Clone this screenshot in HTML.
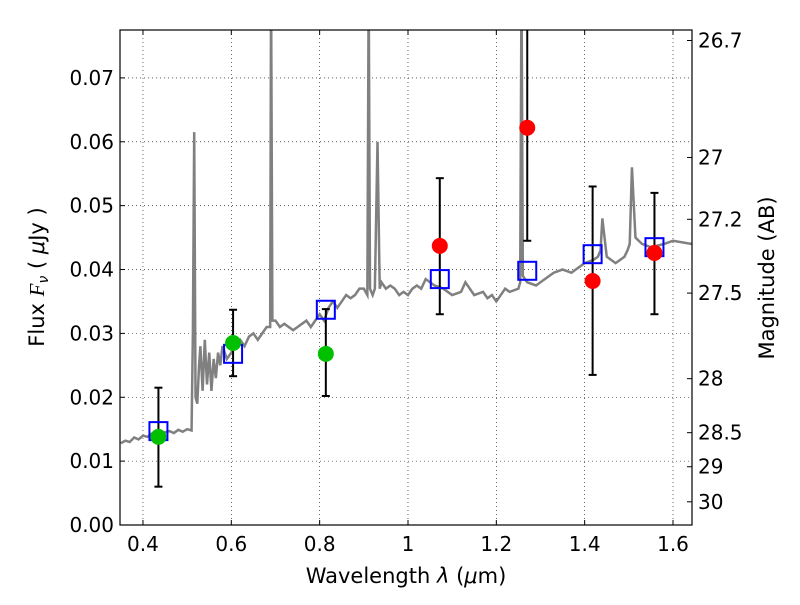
<!DOCTYPE html>
<html><head><meta charset="utf-8"><style>
body{margin:0;background:#fff}
svg text{font-family:"DejaVu Sans","Liberation Sans",sans-serif;fill:#000}
</style></head><body>
<svg id="c" width="800" height="600"></svg>
<script>
const xTicks=[0.4,0.6,0.8,1.0,1.2,1.4,1.6];
const xTickLabels=["0.4","0.6","0.8","1","1.2","1.4","1.6"];
const yTicks=[0,0.01,0.02,0.03,0.04,0.05,0.06,0.07];
const yTickLabels=["0.00","0.01","0.02","0.03","0.04","0.05","0.06","0.07"];
const magTicks=[26.7,27,27.2,27.5,28,28.5,29,30];
const magLabels=["26.7","27","27.2","27.5","28","28.5","29","30"];
const specX=[0.35,0.36,0.37,0.38,0.39,0.40,0.41,0.42,0.43,0.45,0.46,0.47,0.48,0.49,0.50,0.51,0.513,0.516,0.519,0.523,0.527,0.53,0.535,0.54,0.545,0.55,0.555,0.56,0.565,0.57,0.575,0.58,0.59,0.6,0.61,0.62,0.63,0.64,0.65,0.66,0.67,0.68,0.688,0.69,0.693,0.70,0.71,0.72,0.73,0.74,0.75,0.76,0.77,0.78,0.79,0.8,0.81,0.82,0.83,0.84,0.85,0.86,0.87,0.88,0.89,0.9,0.908,0.911,0.914,0.92,0.925,0.931,0.936,0.94,0.95,0.96,0.97,0.98,0.99,1.0,1.01,1.02,1.03,1.04,1.05,1.06,1.08,1.1,1.12,1.13,1.15,1.17,1.18,1.19,1.2,1.21,1.22,1.23,1.25,1.254,1.257,1.26,1.27,1.29,1.3,1.32,1.33,1.35,1.37,1.38,1.4,1.42,1.43,1.436,1.44,1.45,1.47,1.49,1.497,1.502,1.507,1.515,1.53,1.55,1.58,1.6,1.643];
const specY=[0.0128,0.0132,0.0130,0.0137,0.0134,0.014,0.0138,0.0143,0.0141,0.0145,0.0147,0.0144,0.0149,0.0146,0.0150,0.0148,0.030,0.0615,0.02,0.019,0.025,0.028,0.021,0.029,0.022,0.027,0.021,0.026,0.023,0.027,0.025,0.028,0.026,0.027,0.0285,0.029,0.028,0.0295,0.030,0.029,0.030,0.031,0.031,0.085,0.032,0.032,0.031,0.0315,0.031,0.0305,0.031,0.0315,0.032,0.031,0.032,0.033,0.032,0.034,0.035,0.034,0.035,0.036,0.0355,0.036,0.037,0.037,0.036,0.085,0.037,0.036,0.037,0.060,0.037,0.038,0.037,0.0375,0.037,0.036,0.0365,0.036,0.037,0.0375,0.037,0.0385,0.038,0.0375,0.037,0.036,0.0365,0.038,0.036,0.0365,0.0355,0.036,0.035,0.036,0.037,0.0365,0.037,0.038,0.085,0.039,0.038,0.0375,0.038,0.039,0.0395,0.040,0.0395,0.040,0.041,0.0415,0.042,0.043,0.048,0.042,0.041,0.042,0.043,0.044,0.056,0.045,0.044,0.0435,0.044,0.0445,0.044,0.0445,0.0445];
const greenX=[0.435,0.604,0.814];
const greenY=[0.0138,0.0285,0.0268];
const greenLo=[0.006,0.0233,0.0202];
const greenHi=[0.0215,0.0337,0.0338];
const redX=[1.072,1.27,1.418,1.558];
const redY=[0.0437,0.0622,0.0382,0.0426];
const redLo=[0.033,0.0445,0.0235,0.033];
const redHi=[0.0543,0.09,0.053,0.052];
const modelX=[0.435,0.604,0.814,1.072,1.27,1.418,1.558];
const modelY=[0.0147,0.0268,0.0337,0.0385,0.0398,0.0424,0.0435];

const L=120,R=692,T=30,B=525,X0=0.348,X1=1.643,Y0=0,Y1=0.0775;
const sx=v=>L+(v-X0)/(X1-X0)*(R-L);
const sy=v=>B-(v-Y0)/(Y1-Y0)*(B-T);
const my=m=>sy(Math.pow(10,(23.9-m)/2.5));
const svg=document.getElementById('c');
const NS='http://www.w3.org/2000/svg';
function mk(tag,attrs,parent){const e=document.createElementNS(NS,tag);for(const k in attrs)e.setAttribute(k,attrs[k]);(parent||svg).appendChild(e);return e;}
const defs=mk('defs',{});const cp=mk('clipPath',{id:'cp'},defs);mk('rect',{x:L,y:T,width:R-L,height:B-T},cp);
const grid=mk('g',{});


xTicks.forEach((v,i)=>{
 mk('line',{x1:sx(v),x2:sx(v),y1:T,y2:B,stroke:'#000','stroke-width':0.6,'stroke-dasharray':'1,3'},grid);
 mk('line',{x1:sx(v),x2:sx(v),y1:B,y2:B-5,stroke:'#000'},grid);
 mk('line',{x1:sx(v),x2:sx(v),y1:T,y2:T+5,stroke:'#000'},grid);
 const t=mk('text',{x:sx(v),y:B+26,'text-anchor':'middle','font-size':20});t.textContent=xTickLabels[i];
 
 
});
yTicks.forEach((v,i)=>{
 if(v>0)mk('line',{x1:L,x2:R,y1:sy(v),y2:sy(v),stroke:'#000','stroke-width':0.6,'stroke-dasharray':'1,3'},grid);
 mk('line',{x1:L,x2:L+5,y1:sy(v),y2:sy(v),stroke:'#000'},grid);
 const t=mk('text',{x:L-6,y:sy(v)+7,'text-anchor':'end','font-size':20});t.textContent=yTickLabels[i];
 
 
});
magTicks.forEach((m,i)=>{
 mk('line',{x1:R,x2:R-5,y1:my(m),y2:my(m),stroke:'#000'},grid);
 const t=mk('text',{x:R+6,y:my(m)+7,'font-size':20});t.textContent=magLabels[i];
 
 
});
const plot=mk('g',{'clip-path':'url(#cp)'});
const sp=mk('polyline',{points:specX.map((x,i)=>sx(x)+','+sy(specY[i])).join(' '),fill:'none',stroke:'#808080','stroke-width':2.5},plot);


function errs(xs,lo,hi){xs.forEach((x,i)=>{
 const g=mk('g',{stroke:'#000','stroke-width':2},plot);
 
 
 mk('line',{x1:sx(x),x2:sx(x),y1:sy(lo[i]),y2:sy(hi[i])},g);
 mk('line',{x1:sx(x)-4,x2:sx(x)+4,y1:sy(lo[i]),y2:sy(lo[i])},g);
 mk('line',{x1:sx(x)-4,x2:sx(x)+4,y1:sy(hi[i]),y2:sy(hi[i])},g);
});}
errs(greenX,greenLo,greenHi);errs(redX,redLo,redHi);
modelX.forEach((x,i)=>{const r=mk('rect',{x:sx(x)-9,y:sy(modelY[i])-9,width:18,height:18,fill:'none',stroke:'#0000ff','stroke-width':2},plot);
 
 });
greenX.forEach((x,i)=>{const c=mk('circle',{cx:sx(x),cy:sy(greenY[i]),r:8,fill:'#00c000'},plot);
 
 });
redX.forEach((x,i)=>{const c=mk('circle',{cx:sx(x),cy:sy(redY[i]),r:8,fill:'#ff0000'},plot);
 
 });
const fr=mk('rect',{x:L,y:T,width:R-L,height:B-T,fill:'none',stroke:'#000','stroke-width':1.2});


</script>
<svg width="800" height="600" style="position:absolute;left:0;top:0">
<text x="406" y="583" text-anchor="middle" font-size="21">Wavelength  <tspan font-style="italic">λ</tspan> (<tspan font-style="italic">μ</tspan>m)</text>
<text transform="translate(44,277) rotate(-90)" text-anchor="middle" font-size="21">Flux  <tspan font-style="italic" font-family="Liberation Serif">F</tspan><tspan font-style="italic" font-size="14" dy="4">ν</tspan><tspan dy="-4">  (  </tspan><tspan font-style="italic">μ</tspan>Jy )</text>
<text transform="translate(774,278) rotate(-90)" text-anchor="middle" font-size="21">Magnitude (AB)</text>
</svg>
</body></html>
